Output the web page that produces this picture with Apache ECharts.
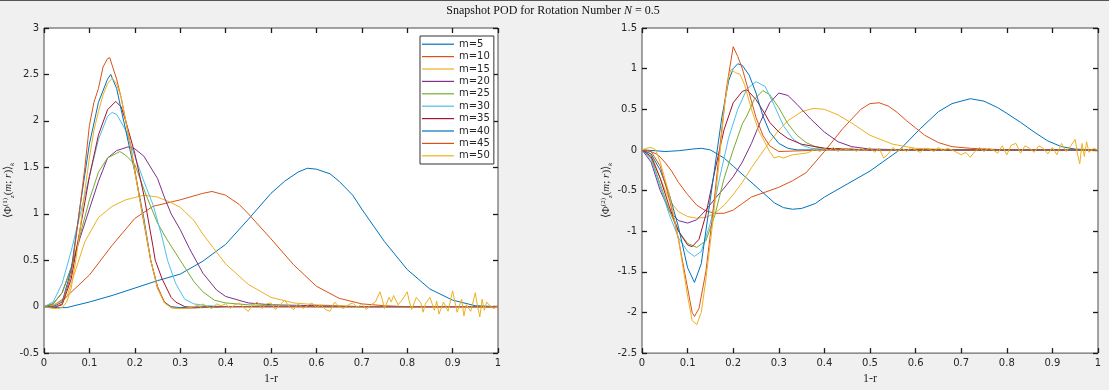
<!DOCTYPE html>
<html><head><meta charset="utf-8">
<script src="https://cdn.jsdelivr.net/npm/echarts@6/dist/echarts.min.js"></script>
<style>html,body{margin:0;padding:0;background:#f0f0f0;}#c{width:1109px;height:390px;}</style>
</head><body><div id="c"></div>
<script>
const names = ['m=5','m=10','m=15','m=20','m=25','m=30','m=35','m=40','m=45','m=50'];
const colors = ['#0072BD','#D95319','#EDB120','#7E2F8E','#77AC30','#4DBEEE','#A2142F','#0072BD','#D95319','#EDB120'];
const xTicks = {min:0, max:1, interval:0.1};
const y1Ticks = {min:-0.5, max:3, interval:0.5};
const y2Ticks = {min:-2.5, max:1.5, interval:0.5};

// Left panel: <Phi_z^(1)(m;r)>_k
const p1_m5 = [[0,0],[0.03,-0.01],[0.05,-0.01],[0.1,0.05],[0.15,0.12],[0.2,0.2],[0.25,0.28],[0.3,0.35],[0.35,0.49],[0.4,0.67],[0.45,0.94],[0.5,1.22],[0.53,1.35],[0.56,1.45],[0.58,1.49],[0.6,1.48],[0.63,1.43],[0.65,1.35],[0.68,1.2],[0.7,1.05],[0.75,0.7],[0.8,0.4],[0.85,0.19],[0.9,0.07],[0.95,0.01],[1,0]];
const p1_m10 = [[0,0],[0.02,0.01],[0.05,0.11],[0.1,0.34],[0.15,0.66],[0.2,0.95],[0.24,1.08],[0.3,1.15],[0.35,1.22],[0.37,1.24],[0.4,1.2],[0.43,1.1],[0.45,1.0],[0.5,0.73],[0.55,0.45],[0.6,0.22],[0.65,0.09],[0.7,0.03],[0.75,0.01],[0.8,0],[1,0]];
const p1_m15 = [[0,0],[0.02,0.02],[0.04,0.06],[0.05,0.1],[0.07,0.4],[0.09,0.7],[0.12,0.96],[0.15,1.08],[0.18,1.15],[0.22,1.2],[0.25,1.18],[0.28,1.12],[0.3,1.07],[0.33,0.93],[0.35,0.78],[0.4,0.46],[0.45,0.24],[0.5,0.1],[0.55,0.04],[0.6,0.02],[0.7,0],[1,0]];
const p1_m20 = [[0,0],[0.02,0.03],[0.04,0.15],[0.06,0.42],[0.08,0.75],[0.1,1.05],[0.12,1.35],[0.14,1.6],[0.16,1.68],[0.185,1.72],[0.2,1.7],[0.22,1.62],[0.25,1.38],[0.265,1.18],[0.28,1.0],[0.3,0.83],[0.32,0.63],[0.35,0.36],[0.38,0.18],[0.4,0.11],[0.45,0.04],[0.5,0.02],[0.6,0.01],[0.7,0],[1,0]];
const p1_m25 = [[0,0],[0.02,0.03],[0.04,0.15],[0.06,0.42],[0.08,0.78],[0.1,1.15],[0.12,1.45],[0.14,1.6],[0.167,1.67],[0.18,1.63],[0.2,1.53],[0.225,1.2],[0.25,0.9],[0.27,0.73],[0.3,0.5],[0.33,0.27],[0.35,0.16],[0.375,0.07],[0.4,0.04],[0.45,0.02],[0.5,0.01],[0.6,0],[1,0]];
const p1_m30 = [[0,0],[0.02,0.05],[0.04,0.25],[0.06,0.6],[0.08,1.0],[0.1,1.4],[0.12,1.8],[0.14,2.05],[0.15,2.09],[0.16,2.07],[0.18,1.9],[0.2,1.62],[0.22,1.35],[0.24,1.1],[0.26,0.75],[0.272,0.5],[0.29,0.25],[0.31,0.08],[0.33,0.03],[0.36,0.01],[0.4,0],[1,0]];
const p1_m35 = [[0,0],[0.02,-0.01],[0.04,0.02],[0.06,0.3],[0.08,0.85],[0.1,1.4],[0.12,1.85],[0.14,2.12],[0.158,2.21],[0.17,2.15],[0.18,2.0],[0.2,1.65],[0.22,1.2],[0.24,0.65],[0.245,0.5],[0.26,0.3],[0.28,0.1],[0.29,0.05],[0.31,0.0],[0.33,-0.01],[0.4,0],[1,0]];
const p1_m40 = [[0,0],[0.02,0.0],[0.04,0.05],[0.06,0.4],[0.08,1.1],[0.1,1.75],[0.12,2.2],[0.14,2.45],[0.147,2.5],[0.16,2.35],[0.17,2.12],[0.18,1.9],[0.2,1.45],[0.22,0.95],[0.235,0.5],[0.25,0.2],[0.265,0.05],[0.28,0.0],[0.3,-0.01],[0.35,0],[1,0]];
const p1_m45 = [[0,0],[0.02,-0.01],[0.04,0.03],[0.06,0.35],[0.08,1.1],[0.09,1.5],[0.1,1.95],[0.11,2.2],[0.12,2.35],[0.13,2.58],[0.14,2.67],[0.145,2.68],[0.15,2.6],[0.16,2.45],[0.17,2.25],[0.18,2.0],[0.19,1.75],[0.2,1.48],[0.21,1.18],[0.22,0.9],[0.235,0.5],[0.25,0.22],[0.265,0.05],[0.28,-0.01],[0.3,-0.02],[0.35,-0.01],[0.4,0],[1,0]];
const p1_m50 = [[0,0],[0.01,-0.01],[0.02,-0.02],[0.03,-0.02],[0.04,-0.01],[0.05,0.05],[0.06,0.2],[0.07,0.5],[0.08,0.85],[0.09,1.25],[0.1,1.6],[0.11,1.9],[0.12,2.1],[0.13,2.28],[0.14,2.4],[0.15,2.46],[0.16,2.4],[0.17,2.25],[0.18,2.0],[0.19,1.75],[0.2,1.45],[0.21,1.18],[0.22,0.92],[0.235,0.5],[0.25,0.2],[0.265,0.04],[0.28,-0.01],[0.29,-0.02],
 [0.3,-0.02],[0.31,-0.02],[0.32,-0.01],[0.33,0.0],[0.34,0.02],[0.345,-0.01],[0.35,0.03],[0.36,0.0],[0.37,-0.02],[0.38,0.03],[0.39,0.01],[0.4,0.03],[0.41,-0.02],[0.42,0.02],[0.43,0.04],[0.44,-0.01],[0.45,-0.05],[0.46,0.02],[0.47,0.05],[0.48,-0.02],[0.49,0.03],[0.5,0.04],[0.51,-0.03],[0.52,0.02],[0.53,0.07],[0.54,0.0],[0.55,-0.03],[0.56,0.03],[0.57,-0.02],[0.58,0.01],[0.59,0.04],[0.6,-0.01],[0.61,0.02],[0.62,-0.03],[0.63,-0.05],[0.64,0.05],[0.65,0.0],[0.66,-0.02],[0.67,0.02],[0.68,0.04],[0.69,-0.01],[0.7,0.03],[0.71,-0.03],[0.72,0.02],[0.73,0.05],[0.74,0.16],[0.745,0.08],[0.75,-0.02],[0.76,0.1],[0.765,0.05],[0.77,0.12],[0.78,0.02],[0.79,0.08],[0.8,0.16],[0.805,0.05],[0.81,-0.03],[0.82,0.1],[0.83,0.04],[0.835,-0.06],[0.84,0.03],[0.85,0.1],[0.86,-0.04],[0.865,0.06],[0.87,-0.08],[0.88,0.05],[0.89,-0.05],[0.9,0.17],[0.905,0.05],[0.91,-0.06],[0.92,0.08],[0.925,-0.1],[0.93,0.02],[0.94,-0.05],[0.95,0.15],[0.955,0.0],[0.96,-0.11],[0.965,0.08],[0.97,-0.04],[0.975,0.05],[0.98,0.02],[0.99,-0.02],[1,0]];

// Right panel: <Phi_z^(2)(m;r)>_k
const p2_m5 = [[0,0],[0.03,-0.01],[0.05,-0.02],[0.08,-0.01],[0.11,0.01],[0.13,0.02],[0.15,0.0],[0.18,-0.1],[0.2,-0.2],[0.23,-0.35],[0.26,-0.5],[0.29,-0.65],[0.31,-0.71],[0.33,-0.73],[0.35,-0.72],[0.38,-0.66],[0.4,-0.58],[0.45,-0.42],[0.5,-0.26],[0.54,-0.1],[0.565,0.0],[0.61,0.26],[0.65,0.47],[0.68,0.57],[0.72,0.63],[0.75,0.6],[0.78,0.52],[0.8,0.45],[0.83,0.34],[0.86,0.22],[0.89,0.11],[0.92,0.04],[0.95,0.01],[1,0]];
const p2_m10 = [[0,0],[0.02,-0.02],[0.035,-0.06],[0.05,-0.15],[0.065,-0.26],[0.08,-0.4],[0.1,-0.55],[0.12,-0.68],[0.14,-0.75],[0.16,-0.78],[0.18,-0.78],[0.2,-0.74],[0.22,-0.66],[0.24,-0.58],[0.27,-0.52],[0.3,-0.46],[0.33,-0.38],[0.36,-0.28],[0.38,-0.15],[0.4,-0.02],[0.42,0.12],[0.44,0.26],[0.46,0.38],[0.48,0.5],[0.5,0.57],[0.52,0.58],[0.54,0.54],[0.56,0.46],[0.58,0.36],[0.6,0.27],[0.62,0.18],[0.65,0.09],[0.68,0.04],[0.72,0.02],[0.8,0],[1,0]];
const p2_m15 = [[0,0],[0.02,-0.05],[0.04,-0.35],[0.06,-0.62],[0.08,-0.76],[0.1,-0.82],[0.12,-0.84],[0.14,-0.83],[0.16,-0.78],[0.18,-0.68],[0.2,-0.55],[0.22,-0.4],[0.24,-0.22],[0.26,-0.06],[0.28,0.1],[0.3,0.24],[0.32,0.36],[0.35,0.47],[0.375,0.51],[0.4,0.5],[0.43,0.43],[0.46,0.33],[0.5,0.18],[0.55,0.07],[0.6,0.02],[0.7,0],[1,0]];
const p2_m20 = [[0,0],[0.02,-0.15],[0.04,-0.5],[0.06,-0.75],[0.08,-0.87],[0.1,-0.9],[0.12,-0.86],[0.14,-0.74],[0.16,-0.6],[0.18,-0.47],[0.2,-0.33],[0.22,-0.15],[0.24,0.08],[0.26,0.35],[0.28,0.58],[0.3,0.7],[0.32,0.67],[0.34,0.56],[0.37,0.38],[0.4,0.22],[0.43,0.1],[0.46,0.04],[0.5,0.01],[0.6,0],[1,0]];
const p2_m25 = [[0,0],[0.02,-0.1],[0.04,-0.42],[0.06,-0.75],[0.08,-1.0],[0.1,-1.15],[0.12,-1.2],[0.14,-1.12],[0.16,-0.8],[0.18,-0.35],[0.2,0.0],[0.22,0.32],[0.23,0.42],[0.246,0.62],[0.265,0.73],[0.28,0.68],[0.3,0.52],[0.32,0.32],[0.34,0.18],[0.36,0.09],[0.38,0.04],[0.4,0.02],[0.45,0.01],[0.5,0],[1,0]];
const p2_m30 = [[0,0],[0.02,-0.12],[0.04,-0.45],[0.06,-0.8],[0.08,-1.08],[0.1,-1.25],[0.115,-1.31],[0.13,-1.25],[0.15,-0.9],[0.17,-0.35],[0.19,0.15],[0.21,0.5],[0.23,0.75],[0.25,0.84],[0.27,0.78],[0.29,0.55],[0.31,0.3],[0.33,0.14],[0.35,0.06],[0.37,0.02],[0.4,0.01],[0.5,0],[1,0]];
const p2_m35 = [[0,0],[0.02,-0.08],[0.04,-0.35],[0.06,-0.7],[0.08,-1.0],[0.1,-1.17],[0.11,-1.19],[0.125,-1.1],[0.14,-0.8],[0.16,-0.25],[0.18,0.25],[0.2,0.58],[0.22,0.72],[0.23,0.74],[0.25,0.62],[0.27,0.44],[0.28,0.34],[0.3,0.22],[0.32,0.14],[0.35,0.07],[0.4,0.02],[0.45,0.01],[0.5,0],[1,0]];
const p2_m40 = [[0,0],[0.02,-0.05],[0.04,-0.25],[0.06,-0.55],[0.08,-0.95],[0.1,-1.45],[0.115,-1.63],[0.13,-1.4],[0.145,-0.8],[0.16,-0.2],[0.175,0.4],[0.19,0.85],[0.2,1.0],[0.21,1.06],[0.22,1.04],[0.235,0.92],[0.25,0.7],[0.265,0.42],[0.28,0.22],[0.3,0.08],[0.32,0.02],[0.34,0.0],[0.4,0],[1,0]];
const p2_m45 = [[0,0],[0.02,-0.02],[0.04,-0.2],[0.06,-0.6],[0.08,-1.1],[0.1,-1.7],[0.11,-2.0],[0.115,-2.05],[0.125,-1.95],[0.14,-1.5],[0.155,-0.8],[0.17,0.0],[0.185,0.75],[0.2,1.27],[0.21,1.15],[0.22,1.0],[0.235,0.7],[0.25,0.4],[0.265,0.18],[0.28,0.05],[0.3,-0.02],[0.35,-0.01],[0.4,0],[1,0]];
const p2_m50 = [[0,0],[0.01,0.02],[0.02,0.03],[0.03,0.0],[0.04,-0.15],[0.06,-0.55],[0.08,-1.1],[0.1,-1.8],[0.11,-2.1],[0.12,-2.15],[0.13,-2.0],[0.14,-1.6],[0.155,-0.9],[0.17,-0.1],[0.18,0.5],[0.19,0.9],[0.195,0.99],[0.205,0.95],[0.215,0.93],[0.225,0.8],[0.24,0.5],[0.255,0.25],[0.265,0.14],[0.28,-0.02],[0.29,-0.1],[0.3,-0.08],[0.31,-0.1],[0.33,-0.06],
 [0.36,-0.04],[0.37,-0.02],[0.38,0.01],[0.39,-0.02],[0.4,0.02],[0.41,-0.01],[0.42,0.03],[0.43,-0.02],[0.44,0.02],[0.45,0.0],[0.46,0.03],[0.47,-0.02],[0.48,0.02],[0.49,-0.01],[0.5,0.03],[0.51,-0.03],[0.52,0.02],[0.53,-0.1],[0.54,-0.05],[0.55,0.03],[0.56,-0.02],[0.57,0.02],[0.58,-0.02],[0.59,0.03],[0.6,0.0],[0.61,-0.03],[0.62,0.02],[0.63,0.01],[0.64,-0.02],[0.65,0.03],[0.66,-0.01],[0.67,0.02],[0.68,0.0],[0.69,-0.03],[0.7,-0.06],[0.71,-0.03],[0.72,-0.09],[0.73,-0.02],[0.74,0.03],[0.75,-0.02],[0.76,0.02],[0.77,0.0],[0.78,-0.04],[0.79,0.05],[0.8,-0.06],[0.81,0.06],[0.82,0.08],[0.83,-0.04],[0.84,0.05],[0.85,0.02],[0.86,-0.03],[0.87,0.05],[0.88,0.02],[0.89,-0.05],[0.9,0.03],[0.91,-0.06],[0.92,0.08],[0.93,-0.02],[0.94,0.05],[0.95,0.13],[0.955,-0.05],[0.96,-0.17],[0.965,0.08],[0.97,-0.08],[0.975,0.1],[0.98,-0.03],[0.99,0.02],[1,0]];

const left = [p1_m5,p1_m10,p1_m15,p1_m20,p1_m25,p1_m30,p1_m35,p1_m40,p1_m45,p1_m50];
const right = [p2_m5,p2_m10,p2_m15,p2_m20,p2_m25,p2_m30,p2_m35,p2_m40,p2_m45,p2_m50];

const AX = '#4a4a4a', TK = '#1a1a1a', TXT = '#262626', FONT = 'DejaVu Sans', SERIF = 'Liberation Serif';
const G1 = {left:44, top:28, width:454, height:331};
const G2 = {left:642, top:28, width:456, height:331};
function xAx(grid, bottom){
  return Object.assign({type:'value', gridIndex:grid, position: bottom?'bottom':'top'}, xTicks, {
    axisLine:{show:false, onZero:false}, splitLine:{show:false},
    axisTick:{show:true, inside:true, length:5, lineStyle:{color:TK, width:1.3}},
    axisLabel:{show:bottom, color:TXT, fontFamily:FONT, fontSize:10, margin:5},
    name: bottom ? '1-r' : '', nameLocation:'middle', nameGap:19,
    nameTextStyle:{fontFamily:SERIF, fontSize:12, color:TXT}
  });
}
function yAx(grid, isLeft, ticks, sup){
  return Object.assign({type:'value', gridIndex:grid, position: isLeft?'left':'right'}, ticks, {
    axisLine:{show:false, onZero:false}, splitLine:{show:false},
    axisTick:{show:true, inside:true, length:5, lineStyle:{color:TK, width:1.3}},
    axisLabel:{show:isLeft, color:TXT, fontFamily:FONT, fontSize:10, margin:5},
    name: isLeft ? '{b|⟨Φ}{s|(' + sup + ')}{u|z}{b|(}{i|m}{b|; }{i|r}{b|)⟩}{u|k}' : '',
    nameLocation:'middle', nameGap:28, nameRotate:90,
    nameTextStyle:{color:TXT, rich:{
      b:{fontFamily:SERIF, fontSize:11, lineHeight:14, color:TXT},
      i:{fontFamily:SERIF, fontStyle:'italic', fontSize:11, lineHeight:14, color:TXT},
      s:{fontFamily:SERIF, fontSize:7, lineHeight:8, verticalAlign:'top', color:TXT},
      u:{fontFamily:SERIF, fontStyle:'italic', fontSize:7, lineHeight:8, verticalAlign:'bottom', color:TXT}
    }}
  });
}

const series = [];
left.forEach((d,i)=>series.push({name:names[i], type:'line', xAxisIndex:0, yAxisIndex:0, data:d, showSymbol:false, symbol:'none', lineStyle:{width:1, color:colors[i]}, itemStyle:{color:colors[i]}}));
right.forEach((d,i)=>series.push({name:names[i], type:'line', xAxisIndex:2, yAxisIndex:2, data:d, showSymbol:false, symbol:'none', lineStyle:{width:1, color:colors[i]}, itemStyle:{color:colors[i]}}));

const chart = echarts.init(document.getElementById('c'), null, {renderer:'canvas'});
chart.setOption({
  backgroundColor:'#f0f0f0',
  animation:false,
  title:{text:'{a|Snapshot POD for Rotation Number }{i|N}{a| = 0.5}', left:548, textAlign:'center', top:0,
    textStyle:{fontWeight:'normal', rich:{a:{fontFamily:SERIF, fontWeight:'normal', fontSize:12, color:'#111'}, i:{fontFamily:SERIF, fontWeight:'normal', fontStyle:'italic', fontSize:12, color:'#111'}}}},
  grid:[Object.assign({show:true, backgroundColor:'#fff', borderColor:AX, borderWidth:1}, G1),
        Object.assign({show:true, backgroundColor:'#fff', borderColor:AX, borderWidth:1}, G2)],
  xAxis:[xAx(0,true), xAx(0,false), xAx(1,true), xAx(1,false)],
  yAxis:[yAx(0,true,y1Ticks,1), yAx(0,false,y1Ticks,1), yAx(1,true,y2Ticks,2), yAx(1,false,y2Ticks,2)],
  legend:{data:names, orient:'vertical', left:420, top:36, icon:'rect', itemWidth:32, itemHeight:1.2, itemGap:0,
    padding:[2,4,2,2], backgroundColor:'#fff', borderColor:'#333', borderWidth:1,
    textStyle:{fontFamily:FONT, fontSize:10, color:TXT, lineHeight:12.4}},
  graphic:[{type:'rect', left:0, top:0, shape:{width:1109, height:1}, style:{fill:'#555'}}],
  series: series
});
</script></body></html>
